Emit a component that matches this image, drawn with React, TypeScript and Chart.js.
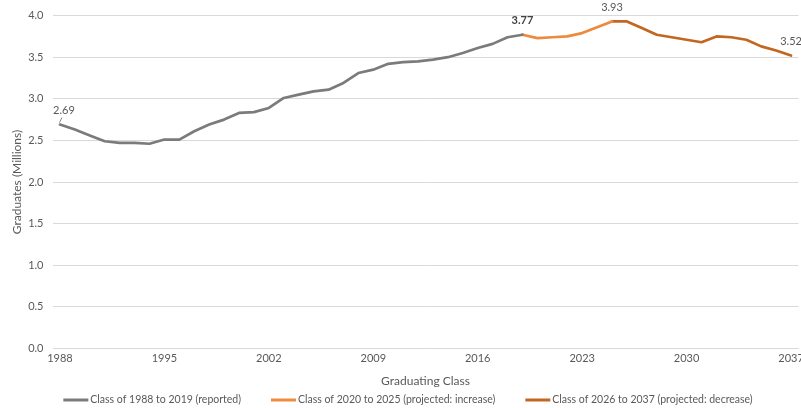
import { useEffect, useRef } from "react";
import { Chart, registerables } from "chart.js";

Chart.register(...registerables);

// ---- Data ----
const years = [
  1988, 1989, 1990, 1991, 1992, 1993, 1994, 1995, 1996, 1997,
  1998, 1999, 2000, 2001, 2002, 2003, 2004, 2005, 2006, 2007,
  2008, 2009, 2010, 2011, 2012, 2013, 2014, 2015, 2016, 2017,
  2018, 2019, 2020, 2021, 2022, 2023, 2024, 2025, 2026, 2027,
  2028, 2029, 2030, 2031, 2032, 2033, 2034, 2035, 2036, 2037,
];

// Class of 1988 to 2019 (reported)
const reportedValues = [
  2.69, 2.63, 2.56, 2.49, 2.47, 2.47, 2.46, 2.51, 2.51, 2.61,
  2.69, 2.75, 2.83, 2.84, 2.89, 3.01, 3.05, 3.09, 3.11, 3.19,
  3.31, 3.35, 3.42, 3.44, 3.45, 3.47, 3.50, 3.55, 3.61, 3.66,
  3.74, 3.77,
];

// Class of 2020 to 2025 (projected: increase), joined from 2019
const increaseYears = [2019, 2020, 2021, 2022, 2023, 2024, 2025];
const increaseValues = [3.77, 3.73, 3.74, 3.75, 3.79, 3.86, 3.93];

// Class of 2026 to 2037 (projected: decrease), joined from 2025
const decreaseYears = [2025, 2026, 2027, 2028, 2029, 2030, 2031, 2032, 2033, 2034, 2035, 2036, 2037];
const decreaseValues = [3.93, 3.93, 3.85, 3.77, 3.74, 3.71, 3.68, 3.75, 3.74, 3.71, 3.63, 3.58, 3.52];

const seriesNames = [
  "Class of 1988 to 2019 (reported)",
  "Class of 2020 to 2025 (projected: increase)",
  "Class of 2026 to 2037 (projected: decrease)",
];
const seriesColors = ["#7b7b7b", "#ee8a3e", "#c3661f"];

const xTickLabels = ["1988", "1995", "2002", "2009", "2016", "2023", "2030", "2037"];
const yAxisTitle = "Graduates (Millions)";
const xAxisTitle = "Graduating Class";

// points that carry a value label: [series index, year]
const labeledPoints: [number, number][] = [
  [0, 1988],
  [0, 2019],
  [1, 2025],
  [2, 2037],
];

const FONT = "Lato, 'Open Sans', sans-serif";
const TEXT = "#595959";

function alignToYears(ys: number[], vals: number[]) {
  return years.map((y) => {
    const i = ys.indexOf(y);
    return i >= 0 ? vals[i] : null;
  });
}

const valueLabelPlugin = {
  id: "valueLabels",
  afterDatasetsDraw(chart: any) {
    const { ctx } = chart;
    const xs = chart.scales.x;
    const ys = chart.scales.y;
    ctx.save();
    ctx.textAlign = "center";
    ctx.textBaseline = "middle";
    labeledPoints.forEach(([ds, year], k) => {
      const idx = years.indexOf(year);
      const v = chart.data.datasets[ds].data[idx];
      if (v == null) return;
      const px = xs.getPixelForValue(idx);
      const py = ys.getPixelForValue(v);
      const bold = year === 2019;
      ctx.font = `${bold ? "bold " : ""}11px ${FONT}`;
      ctx.fillStyle = bold ? "#404040" : TEXT;
      if (k === 0) {
        ctx.strokeStyle = "#8a8a8a";
        ctx.lineWidth = 1;
        ctx.beginPath();
        ctx.moveTo(px - 0.5, py - 2);
        ctx.lineTo(px + 2, py - 7);
        ctx.stroke();
        ctx.fillText(v.toFixed(2), px + 4, py - 14);
      } else {
        ctx.fillText(v.toFixed(2), px, py - 14);
      }
    });
    ctx.restore();
  },
};

const legendPlugin = {
  id: "bottomLegend",
  afterDraw(chart: any) {
    const { ctx } = chart;
    ctx.save();
    ctx.font = `10.5px ${FONT}`;
    ctx.textBaseline = "middle";
    ctx.textAlign = "left";
    const lineW = 25;
    const gapText = 2;
    const gapItem = 30;
    const items = chart.data.datasets.map((d: any) => ({
      text: d.label,
      color: d.borderColor,
      w: ctx.measureText(d.label).width,
    }));
    const total =
      items.reduce((s: number, it: any) => s + lineW + gapText + it.w, 0) +
      gapItem * (items.length - 1);
    let x = 408 - total / 2;
    const y = 400;
    items.forEach((it: any) => {
      ctx.strokeStyle = it.color;
      ctx.lineWidth = 3;
      ctx.beginPath();
      ctx.moveTo(x, y);
      ctx.lineTo(x + lineW, y);
      ctx.stroke();
      ctx.fillStyle = TEXT;
      ctx.fillText(it.text, x + lineW + gapText, y);
      x += lineW + gapText + it.w + gapItem;
    });
    ctx.restore();
  },
};

export default function App() {
  const ref = useRef<HTMLCanvasElement | null>(null);

  useEffect(() => {
    if (!ref.current) return;
    Chart.defaults.font.family = FONT;
    Chart.defaults.color = TEXT;
    const chart = new Chart(ref.current, {
      type: "line",
      data: {
        labels: years.map(String),
        datasets: [
          {
            label: seriesNames[0],
            data: alignToYears(years.slice(0, reportedValues.length), reportedValues),
            borderColor: seriesColors[0],
            backgroundColor: seriesColors[0],
          },
          {
            label: seriesNames[1],
            data: alignToYears(increaseYears, increaseValues),
            borderColor: seriesColors[1],
            backgroundColor: seriesColors[1],
          },
          {
            label: seriesNames[2],
            data: alignToYears(decreaseYears, decreaseValues),
            borderColor: seriesColors[2],
            backgroundColor: seriesColors[2],
          },
        ].map((d) => ({
          ...d,
          borderWidth: 2.7,
          pointRadius: 0,
          pointHoverRadius: 0,
          tension: 0,
          spanGaps: false,
          borderJoinStyle: "round" as const,
          borderCapStyle: "round" as const,
        })),
      },
      options: {
        responsive: false,
        animation: false,
        layout: { padding: { top: 14, right: 31.5, left: 0, bottom: 20 } },
        plugins: {
          legend: { display: false },
          tooltip: { enabled: false },
        },
        scales: {
          x: {
            type: "category",
            offset: true,
            grid: { display: false, drawTicks: false },
            border: { display: false },
            ticks: {
              autoSkip: false,
              maxRotation: 0,
              padding: 3,
              color: TEXT,
              font: { size: 11 },
              callback: (_v: any, i: number) =>
                xTickLabels.includes(String(years[i])) ? String(years[i]) : "",
            },
            title: {
              display: true,
              text: xAxisTitle,
              color: TEXT,
              font: { size: 12 },
              padding: { top: 6, bottom: 0 },
            },
          },
          y: {
            min: 0,
            max: 4,
            grid: { color: "#d9d9d9", lineWidth: 1, drawTicks: false },
            border: { display: false },
            ticks: {
              stepSize: 0.5,
              padding: 9,
              color: TEXT,
              font: { size: 11 },
              callback: (v: any) => Number(v).toFixed(1),
            },
            title: {
              display: true,
              text: yAxisTitle,
              color: TEXT,
              font: { size: 12 },
              padding: { top: 10, bottom: 0 },
            },
            afterFit: (scale: any) => {
              scale.width = 52.5;
            },
          },
        },
      },
      plugins: [valueLabelPlugin, legendPlugin],
    });
    return () => chart.destroy();
  }, []);

  return (
    <div
      style={{
        position: "fixed",
        left: 0,
        top: 0,
        width: 801,
        height: 408,
        overflow: "hidden",
        background: "#fff",
      }}
    >
      <canvas ref={ref} width={830} height={408} style={{ display: "block" }} />
    </div>
  );
}
